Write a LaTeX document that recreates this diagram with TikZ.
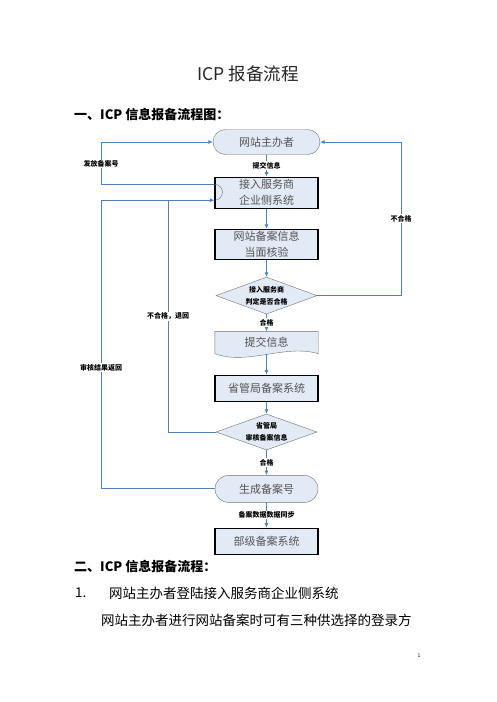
\documentclass[tikz,border=0pt]{standalone}
\usepackage{fontspec}
\usepackage{tikz}
\usetikzlibrary{arrows.meta,backgrounds,calc,positioning,shapes.geometric,shapes.misc}
\newfontfamily\cjk{Noto Sans CJK SC}
\definecolor{flowblue}{RGB}{79,129,189}
\definecolor{boxfill}{RGB}{226,234,245}
\definecolor{boxtext}{RGB}{85,85,85}
\definecolor{edgegray}{RGB}{115,115,115}

\begin{document}
\begin{tikzpicture}[x=1pt,y=-1pt,>={Latex[length=4.5pt,width=4pt]},font=\cjk,
    every node/.style={align=center,inner sep=0pt},
    termnode/.style={draw=edgegray,rounded rectangle,fill=boxfill,text=boxtext,minimum width=107pt,minimum height=25pt,font=\cjk\fontsize{11}{16}\selectfont},
    procnode/.style={draw=black,line width=1.1pt,fill=boxfill,text=boxtext,minimum width=103pt,minimum height=30pt,font=\cjk\fontsize{11}{16}\selectfont},
    docnode/.style={text=boxtext,minimum width=103pt,minimum height=22pt,font=\cjk\fontsize{11}{16}\selectfont},
    decnode/.style={draw=edgegray,diamond,aspect=2.7,fill=boxfill,text=black,minimum width=101pt,minimum height=37pt,font=\cjk\bfseries\fontsize{7}{12}\selectfont},
    flow/.style={->,flowblue,line width=0.9pt},
    flowline/.style={flowblue,line width=0.9pt},
    tag/.style={fill=white,text=black,inner sep=1pt,font=\cjk\bfseries\fontsize{7}{8}\selectfont}]
  \useasboundingbox (0,0) rectangle (496,702);
  \begin{scope}[on background layer]
    \fill[white] (0,0) rectangle (496,702);
  \end{scope}

  % page text
  \node[text=black!85,font=\cjk\fontsize{17.5}{20}\selectfont] (title) at (248,74) {ICP 报备流程};
  \node[anchor=west,font=\cjk\bfseries\fontsize{13}{15}\selectfont] (headone) at (74,115) {一、ICP 信息报备流程图：};
  \node[anchor=west,font=\cjk\bfseries\fontsize{13}{15}\selectfont] (headtwo) at (74,567) {二、ICP 信息报备流程：};
  \node[anchor=west,font=\cjk\fontsize{13.5}{16}\selectfont] (stepno) at (75,593) {1.};
  \node[anchor=west,font=\cjk\fontsize{13.5}{16}\selectfont] (steptext) at (109,593) {网站主办者登陆接入服务商企业侧系统};
  \node[anchor=west,font=\cjk\fontsize{13.5}{16}\selectfont] (para) at (101,620) {网站主办者进行网站备案时可有三种供选择的登录方};
  \node[font=\cjk\fontsize{5}{6}\selectfont] (pageno) at (419,656) {1};

  % flow chart
  \node[termnode] (host) at (266.5,142) {网站主办者};
  \node[procnode,below=22pt of host,minimum height=31pt] (isp) {接入服务商\\企业侧系统};
  \node[procnode,below=20pt of isp] (check) {网站备案信息\\当面核验};
  \node[decnode,below=17pt of check] (judge) {接入服务商\\判定是否合格};
  \node[docnode,below=17pt of judge] (submit) {提交信息};
  \node[procnode,below=21pt of submit,minimum height=26pt] (prov) {省管局备案系统};
  \node[decnode,below=12pt of prov,minimum height=36pt] (audit) {省管局\\审核备案信息};
  \node[termnode,below=25pt of audit,minimum width=103pt,minimum height=27pt] (gen) {生成备案号};
  \node[procnode,below=25pt of gen,minimum height=26pt] (ministry) {部级备案系统};

  \begin{scope}[on background layer]
    \draw[edgegray,fill=boxfill] (submit.north west) -- (submit.north east) -- (submit.south east)
      .. controls ($(submit.south east)+(-33,-10)$) and ($(submit.south west)+(33,12)$) .. (submit.south west) -- cycle;
  \end{scope}

  \coordinate (lrail) at (101,0);
  \coordinate (mrail) at (168,0);
  \coordinate (rrail) at (401,0);
  \coordinate (ispout) at ($(isp.west)+(0,-8.5)$);
  \coordinate (ispin) at ($(isp.west)+(0,7.5)$);

  \draw[flow] (host) -- node[tag]{提交信息} (isp);
  \draw[flow] (isp) -- (check);
  \draw[flow] (check) -- (judge);
  \draw[flow] (judge) -- node[tag]{合格} (submit);
  \draw[flow] (submit) -- (prov);
  \draw[flow] (prov) -- (audit);
  \draw[flow] (audit) -- node[tag]{合格} (gen);
  \draw[flow] (gen) -- node[tag]{备案数据数据同步} (ministry);

  \draw[flow] (ispout) -- (ispout -| lrail) |- node[tag,pos=0.24]{发放备案号} (host);
  \draw[edgegray] (ispout) arc[start angle=90,end angle=-90,radius=8pt];
  \draw[flow] (gen) -- (gen -| lrail) |- node[tag,pos=0.21]{审核结果返回} (ispin);
  \draw[flowline] (audit) -- (audit -| mrail) -- node[tag,pos=0.5]{不合格，退回} (ispin -| mrail);
  \draw[flow] (judge) -- (judge -| rrail) |- node[tag,pos=0.25]{不合格} (host);
\end{tikzpicture}
\end{document}
